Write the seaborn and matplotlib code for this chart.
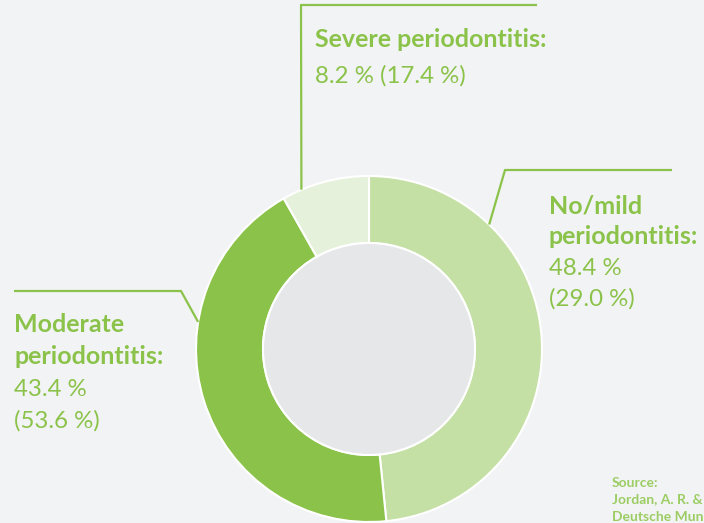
"""
Periodontitis share donut, recreated with seaborn/matplotlib.
Run: python plot.py
"""
import numpy as np
import matplotlib
matplotlib.use('Agg')
import matplotlib.pyplot as plt
import seaborn as sns

# Data
categories = ['No/mild periodontitis', 'Moderate periodontitis', 'Severe periodontitis']
headings = [['No/mild', 'periodontitis:'], ['Moderate', 'periodontitis:'], ['Severe periodontitis:']]
shares = [48.4, 43.4, 8.2]
earlier = [29.0, 53.6, 17.4]
source_lines = ['Source:', 'Jordan, A. R. & Micheelis, W. (2016):', 'Deutsche Mundgesundheitsstudie (DMS V)']

# Style
BG = '#f2f3f5'
HOLE = '#e6e7e9'
GREEN = '#8bc34a'
colors = ['#c5e0a5', GREEN, '#e5f1da']

sns.set_style('white')
plt.rcParams['font.family'] = ['Lato', 'DejaVu Sans']

W, H = 704, 523
fig = plt.figure(figsize=(W / 100, H / 100), dpi=100, facecolor=BG)
ax = fig.add_axes([0, 0, 1, 1])
ax.set_facecolor(BG)

cx, cy = 369, H - 349
r_out, r_in = 173, 106

ax.pie(shares, colors=colors, startangle=90, counterclock=False,
       center=(cx, cy), radius=r_out,
       wedgeprops=dict(width=r_out - r_in, edgecolor='white', linewidth=1.5))
ax.add_patch(plt.Circle((cx, cy), r_in, facecolor=HOLE, edgecolor='white', lw=1.5))

ax.set_xlim(0, W)
ax.set_ylim(0, H)
ax.set_aspect('equal')
ax.axis('off')

def py(y):
    return H - y

# Leader lines: anchor angle on the ring, elbow, end (pixel coords)
leaders = [
    (46, (505, 170), (672, 170)),
    (171, (181, 291), (14, 291)),
    (113, (301, 5), (537, 5)),
]
for ang, elbow, end in leaders:
    a = np.deg2rad(ang)
    x0, y0 = cx + r_out * np.cos(a), cy + r_out * np.sin(a)
    ax.plot([x0, elbow[0], end[0]], [y0, py(elbow[1]), py(end[1])],
            color=GREEN, lw=1.6, solid_capstyle='butt')

# Labels: x, first baseline, line step
label_pos = [(549, 213, 31), (14, 332, 32), (315, 47, 36)]
for (x, y, step), head, s, e in zip(label_pos, headings, shares, earlier):
    lines = [(t, 'bold', 18) for t in head]
    vals = [f'{s:.1f} %', f'({e:.1f} %)']
    if len(head) == 1:
        lines.append((' '.join(vals), 'normal', 17.3))
    else:
        lines += [(v, 'normal', 17.3) for v in vals]
    for i, (t, w, fs) in enumerate(lines):
        ax.text(x, py(y + i * step), t, fontsize=fs, fontweight=w,
                color=GREEN, ha='left', va='baseline')

# Source note, clipped by the figure edge like the original
for i, t in enumerate(source_lines):
    ax.text(612, py(487 + i * 17), t, fontsize=10,
            fontweight='bold', color='#9bcd62', ha='left', va='baseline')

plt.savefig('out.png', dpi=100, facecolor=BG)
plt.close()
